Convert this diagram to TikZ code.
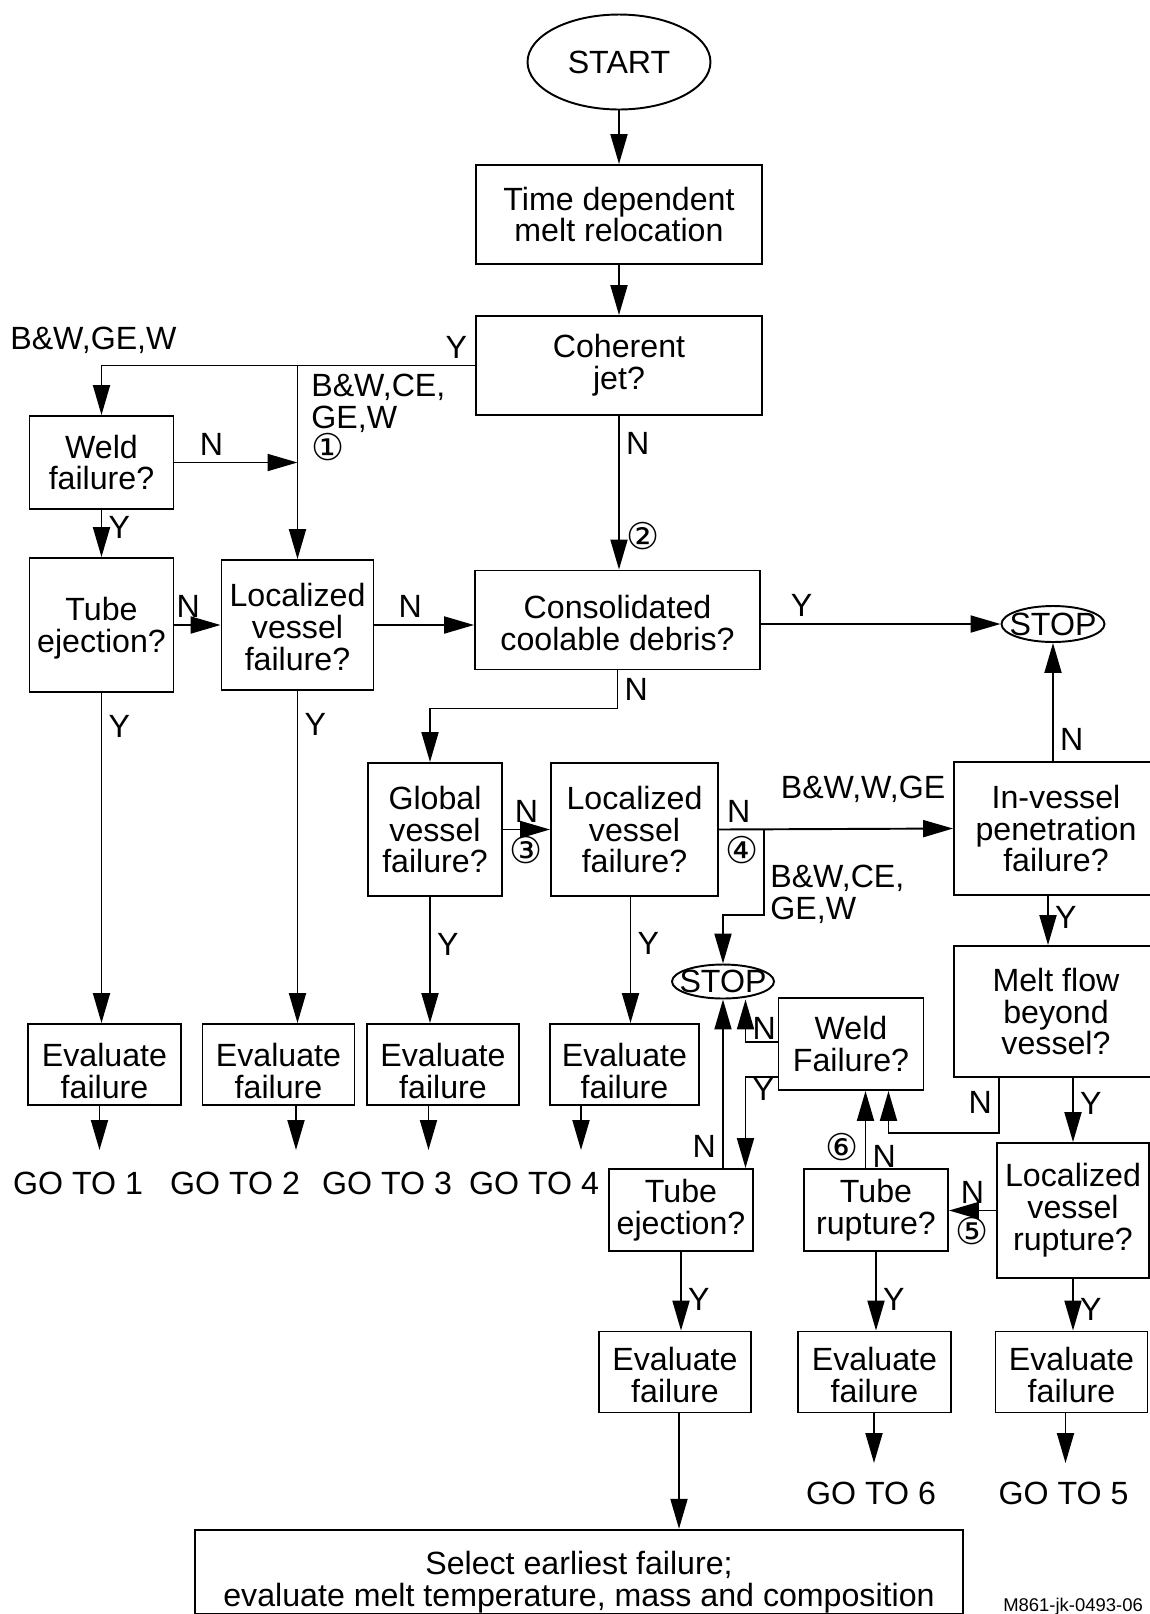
\documentclass[tikz,border=0pt]{standalone}
\usepackage{fontspec}
\setmainfont{Liberation Sans}
\newfontfamily\circfont{DejaVu Sans}
\usepackage{tikz}
\usetikzlibrary{positioning, arrows.meta, shapes.geometric}
\newcommand{\diagfont}{\fontsize{18.3}{18.2}\selectfont}
\newcommand{\circsize}{\fontsize{21}{21}\selectfont\circfont}
\newcommand{\topgap}[1]{\rule{0pt}{#1}}

\begin{document}
\begin{tikzpicture}[
    x=0.02cm, y=-0.02cm,
    box/.style={rectangle, draw, line width=1.1pt, inner sep=0pt, align=center, font=\diagfont},
    evalbox/.style={box, minimum width=3.04cm, minimum height=1.62cm},
    ovalbox/.style={ellipse, draw, line width=1.1pt, inner sep=0pt, font=\diagfont},
    lbl/.style={font=\diagfont, inner sep=3.5pt},
    note/.style={font=\diagfont, inner sep=0pt, align=left},
    arrow/.style={-{Triangle[length=0.6cm, width=0.34cm]}, line width=1.1pt}
]
    \useasboundingbox (0,0) rectangle (1150,1614);

    % main column
    \node[ovalbox, minimum width=3.66cm, minimum height=1.9cm] (start) at (619,62) {START};
    \node[box, minimum width=5.72cm, minimum height=1.98cm] (reloc) at (619,214.5) {Time dependent\\melt relocation};
    \node[box, minimum width=5.72cm, minimum height=1.98cm] (jet) at (619,365.5) {Coherent\\jet?};
    \node[box, minimum width=5.7cm, minimum height=1.98cm] (debris) at (617.5,620) {\topgap{16.8pt}Consolidated\\coolable debris?};
    \node[ovalbox, minimum width=2.06cm, minimum height=0.72cm] (stopA) at (1053,624) {\makebox[0pt]{STOP}};

    % left branch
    \node[box, minimum width=2.88cm, minimum height=1.86cm] (weldA) at (101.5,462.5) {Weld\\failure?};
    \node[box, minimum width=2.88cm, minimum height=2.68cm] (tubeA) at (101.5,625) {\topgap{17.2pt}Tube\\ejection?};
    \node[box, minimum width=3.04cm, minimum height=2.6cm] (locA) at (297.5,625) {\topgap{15.5pt}Localized\\vessel\\failure?};

    % middle row
    \node[box, minimum width=2.68cm, minimum height=2.66cm] (globalv) at (435,829.5) {Global\\vessel\\failure?};
    \node[box, minimum width=3.34cm, minimum height=2.66cm] (locB) at (634.5,829.5) {Localized\\vessel\\failure?};
    \node[box, minimum width=4.08cm, minimum height=2.66cm] (penet) at (1056,828.5) {In-vessel\\penetration\\failure?};
    \node[box, minimum width=4.08cm, minimum height=2.62cm] (melt) at (1056,1011.5) {Melt flow\\beyond\\vessel?};
    \node[ovalbox, minimum width=2.04cm, minimum height=0.68cm] (stopB) at (723,981.5) {\makebox[0pt]{STOP}};
    \node[box, minimum width=2.9cm, minimum height=1.84cm] (weldB) at (851,1044) {Weld\\Failure?};

    \node[evalbox, minimum width=3.06cm] (evalA) at (104.5,1064.5) {\topgap{20.2pt}Evaluate\\failure};
    \node[evalbox] (evalB) at (278.5,1064.5) {\topgap{20.2pt}Evaluate\\failure};
    \node[evalbox] (evalC) at (443,1064.5) {\topgap{20.2pt}Evaluate\\failure};
    \node[evalbox, minimum width=2.98cm] (evalD) at (624.5,1064.5) {\topgap{20.2pt}Evaluate\\failure};

    \node[lbl] (goA) at (78,1183) {GO TO 1};
    \node[lbl] (goB) at (235,1183) {GO TO 2};
    \node[lbl] (goC) at (387,1183) {GO TO 3};
    \node[lbl] (goD) at (534,1183) {GO TO 4};

    % lower right
    \node[box, minimum width=2.88cm, minimum height=1.64cm] (tubeB) at (681,1210) {Tube\\ejection?};
    \node[box, minimum width=2.88cm, minimum height=1.64cm] (rupture) at (876,1210) {Tube\\rupture?};
    \node[box, minimum width=3.04cm, minimum height=2.7cm] (locC) at (1073,1210.5) {Localized\\vessel\\rupture?};
    \node[evalbox] (evalE) at (675,1372) {\topgap{17.1pt}Evaluate\\failure};
    \node[evalbox, minimum width=3.06cm] (evalF) at (874.5,1372) {\topgap{17.1pt}Evaluate\\failure};
    \node[evalbox] (evalG) at (1071.5,1372) {\topgap{17.1pt}Evaluate\\failure};
    \node[lbl] (goF) at (871,1493) {GO TO 6};
    \node[lbl] (goE) at (1063.5,1493) {GO TO 5};

    \node[box, minimum width=15.36cm, minimum height=1.69cm] (select) at (579,1572) {\topgap{25pt}Select earliest failure;\\evaluate melt temperature, mass and composition};

    % plant groups
    \node[note, anchor=west] (grpA) at (10,340) {B\&W,GE,W};
    \node[note, anchor=north west] (grpB) at (311,374) {B\&W,CE,\\GE,W\\{\circsize ①}};
    \node[note] (grpC) at (863,789) {B\&W,W,GE};
    \node[note, anchor=north west] (grpD) at (770,865) {B\&W,CE,\\GE,W};
    \node[anchor=base west, inner sep=0pt, font=\fontsize{10.5}{12}\selectfont] (figcode) at (1003,1611) {M861-jk-0493-06};

    \coordinate (endA) at (99.5,1150);
    \coordinate (endB) at (296,1150);
    \coordinate (endC) at (428.5,1150);
    \coordinate (endD) at (581,1150);
    \coordinate (endF) at (874,1463);
    \coordinate (endE) at (1065.5,1463);
    \coordinate (forkB) at (764,830);

    % connectors
    \draw[arrow] (start) -- (reloc);
    \draw[arrow] (reloc) -- (jet);
    \draw[arrow] (jet.west) -| node[lbl, pos=0.025, above] {Y} (weldA.north);
    \draw[arrow] (jet.west -| locA.north) -- (locA.north);
    \draw[arrow] (weldA.east) -- node[lbl, pos=0.3, above] {N} (weldA.east -| locA.north);
    \draw[arrow] (weldA.south) -- node[lbl, pos=0.37, right] {Y} (tubeA.north);
    \draw[arrow] (tubeA.east) -- node[lbl, pos=0.3, above] {N} (locA.west);
    \draw[arrow] (locA.east) -- node[lbl, pos=0.36, above] {N} (locA.east -| debris.west);
    \draw[arrow] (jet.south) -- node[lbl, pos=0.18, right] {N} node[lbl, pos=0.78, right] {\circsize ②} (jet.south |- debris.north);
    \draw[arrow] (debris.east |- stopA.west) -- node[lbl, pos=0.17, above] {Y} (stopA.west);
    \draw[arrow] (debris.south) -- node[lbl, right] {N} ++(0,38) -| ([xshift=-0.1cm]globalv.north);
    \draw[arrow] (globalv.east) -- node[lbl, above] {N} node[lbl, below] {\circsize ③} (locB.west);
    \draw[arrow] (locB.east) -- node[lbl, pos=0.085, above] {N} node[lbl, pos=0.1, below] {\circsize ④} (penet.west);
    \draw[arrow] (forkB) -- ++(0,85) -| (stopB.north);

    \draw[arrow] (tubeA.south) -- node[lbl, pos=0.1, right] {Y} (tubeA.south |- evalA.north);
    \draw[arrow] (locA.south) -- node[lbl, pos=0.1, right] {Y} (locA.south |- evalB.north);
    \draw[arrow] ([xshift=-0.1cm]globalv.south) -- node[lbl, pos=0.375, right] {Y} ([xshift=-0.1cm]globalv.south |- evalC.north);
    \draw[arrow] ([xshift=-0.08cm]locB.south) -- node[lbl, pos=0.37, right] {Y} ([xshift=-0.08cm]locB.south |- evalD.north);
    \draw[arrow] (evalA.south -| endA) -- (endA);
    \draw[arrow] (evalB.south -| endB) -- (endB);
    \draw[arrow] (evalC.south -| endC) -- (endC);
    \draw[arrow] (evalD.south -| endD) -- (endD);

    \draw[arrow] (penet.north -| stopA.south) -- node[lbl, pos=0.18, right] {N} (stopA.south);
    \draw[arrow] ([xshift=-0.16cm]penet.south) -- node[lbl, pos=0.43, right] {Y} ([xshift=-0.16cm]melt.north);
    \draw[arrow] (melt.south -| locC.north) -- node[lbl, pos=0.4, right] {Y} (locC.north);
    \draw[arrow] ([xshift=-1.14cm]melt.south) -- node[lbl, pos=0.45, left] {N} ++(0,55) -| ([xshift=0.75cm]weldB.south);
    \draw[arrow] ([xshift=-0.21cm]rupture.north) -- node[lbl, pos=0.15, right] {N} node[lbl, pos=0.27, left] {\circsize ⑥} ([xshift=-0.21cm]rupture.north |- weldB.south);
    \draw[arrow] (locC.west) -- node[lbl, above] {N} node[lbl, below] {\circsize ⑤} (locC.west -| rupture.east);
    \draw[arrow] ([yshift=0.046cm]weldB.west) -| node[lbl, pos=0.66, right] {N} ([xshift=0.45cm]stopB.south);
    \draw[arrow] ([yshift=-0.654cm]weldB.west) -| node[lbl, pos=0.57, right] {Y} ([xshift=1.29cm]tubeB.north);
    \draw[arrow] (tubeB.north -| stopB.south) -- node[lbl, pos=0.13, left] {N} (stopB.south);

    \draw[arrow] (tubeB.south) -- node[lbl, pos=0.6, right] {Y} (tubeB.south |- evalE.north);
    \draw[arrow] (rupture.south) -- node[lbl, pos=0.6, right] {Y} (rupture.south |- evalF.north);
    \draw[arrow] (locC.south) -- node[lbl, pos=0.6, right] {Y} (locC.south |- evalG.north);
    \draw[arrow] (evalF.south -| endF) -- (endF);
    \draw[arrow] (evalG.south -| endE) -- (endE);
    \draw[arrow] ([xshift=0.08cm]evalE.south) -- ([xshift=0.08cm]evalE.south |- select.north);
\end{tikzpicture}
\end{document}
